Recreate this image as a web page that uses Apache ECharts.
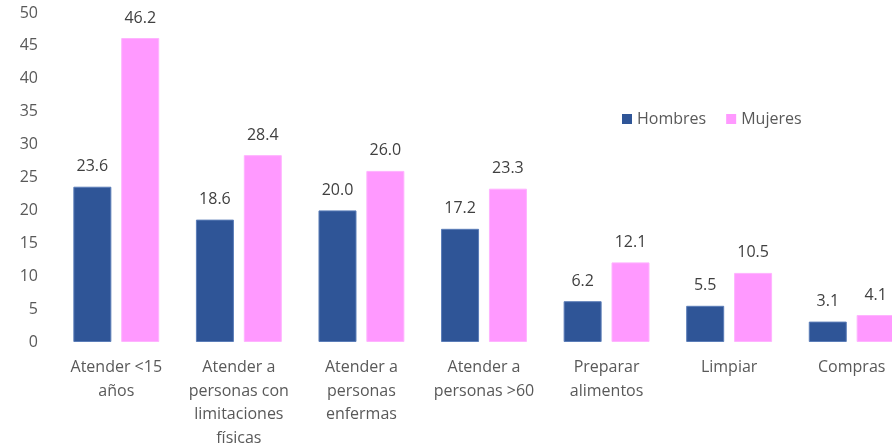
<!DOCTYPE html>
<html>
<head>
<meta charset="utf-8">
<script src="https://cdn.jsdelivr.net/npm/echarts@6/dist/echarts.min.js"></script>
<style>
  html, body { margin: 0; padding: 0; background: #fff; }
  #chart { width: 892px; height: 443px; }
</style>
</head>
<body>
<div id="chart"></div>
<script>
const categories = [
  'Atender <15\naños',
  'Atender a\npersonas con\nlimitaciones\nfísicas',
  'Atender a\npersonas\nenfermas',
  'Atender a\npersonas >60',
  'Preparar\nalimentos',
  'Limpiar',
  'Compras'
];
const hombres = [23.6, 18.6, 20.0, 17.2, 6.2, 5.5, 3.1];
const mujeres = [46.2, 28.4, 26.0, 23.3, 12.1, 10.5, 4.1];

const fontFamily = '"Open Sans", "Noto Sans", sans-serif';
const textColor = '#595959';

const chart = echarts.init(document.getElementById('chart'));

const labelStyle = {
  show: true,
  position: 'top',
  distance: 12,
  color: '#404040',
  fontSize: 16,
  fontFamily: fontFamily,
  formatter: p => p.value.toFixed(1)
};

chart.setOption({
  animation: false,
  textStyle: { fontFamily: fontFamily },
  grid: { left: 55, top: 13, width: 858, bottom: 101, containLabel: false, outerBoundsMode: 'none' },
  legend: {
    left: 617,
    top: 106,
    itemWidth: 10,
    itemHeight: 10,
    itemGap: 20,
    icon: 'rect',
    itemStyle: { borderWidth: 0 },
    textStyle: { color: textColor, fontSize: 16, fontFamily: fontFamily },
    data: ['Hombres', 'Mujeres']
  },
  xAxis: {
    type: 'category',
    data: categories,
    axisLine: { show: false },
    axisTick: { show: false },
    axisLabel: {
      color: textColor,
      fontSize: 16,
      lineHeight: 23.5,
      margin: 14,
      interval: 0,
      fontFamily: fontFamily
    }
  },
  yAxis: {
    type: 'value',
    min: 0,
    max: 50,
    interval: 5,
    splitLine: { show: false },
    axisLine: { show: false },
    axisTick: { show: false },
    axisLabel: { color: textColor, fontSize: 16, margin: 17, fontFamily: fontFamily }
  },
  series: [
    {
      name: 'Hombres',
      type: 'bar',
      data: hombres,
      barWidth: 38,
      barGap: '26%',
      itemStyle: { color: '#2F5597', borderColor: '#5B7DB8', borderWidth: 1 },
      label: labelStyle
    },
    {
      name: 'Mujeres',
      type: 'bar',
      data: mujeres,
      barWidth: 38,
      itemStyle: { color: '#FF99FF', borderColor: '#FFB3FF', borderWidth: 1 },
      label: labelStyle
    }
  ]
});
</script>
</body>
</html>
